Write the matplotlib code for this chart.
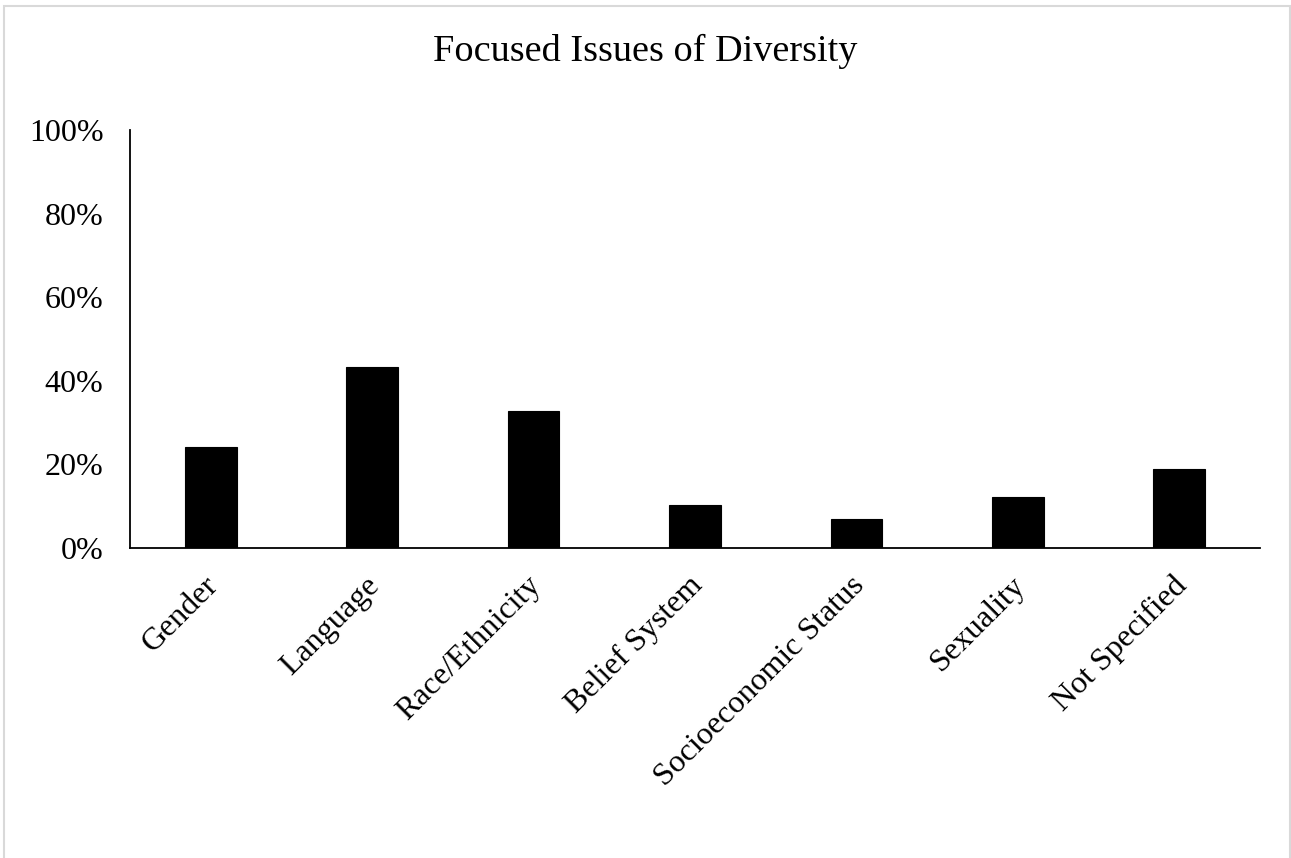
import numpy as np
import matplotlib
matplotlib.use("Agg")
import matplotlib.pyplot as plt
import matplotlib.transforms as mtransforms
from matplotlib.patches import Rectangle
from matplotlib.ticker import PercentFormatter

categories = ["Gender", "Language", "Race/Ethnicity", "Belief System",
              "Socioeconomic Status", "Sexuality", "Not Specified"]
shares = [24.2, 43.2, 32.8, 10.4, 6.9, 12.1, 19.0]
yticks = [0, 20, 40, 60, 80, 100]

plt.rcParams["font.family"] = ["Liberation Serif", "DejaVu Serif"]

fig = plt.figure(figsize=(12.91, 8.58), dpi=100)
ax = fig.add_axes([130 / 1291, 1 - 548 / 858, 1130 / 1291, 418 / 858])

x = np.arange(len(categories))
ax.bar(x, shares, width=0.32, color="black", edgecolor="black", linewidth=0.8)

ax.set_xlim(-0.5, len(categories) - 0.5)
ax.set_ylim(0, 100)
ax.set_yticks(yticks)
ax.yaxis.set_major_formatter(PercentFormatter(decimals=0))
ax.tick_params(axis="y", length=0, pad=19, labelsize=23)
ax.tick_params(axis="x", length=0, pad=8)
ax.set_xticks(x)
ax.set_xticklabels(categories, rotation=45, ha="right", va="top",
                   rotation_mode="anchor", fontsize=23)

# nudge the slanted labels a bit down-left, like the original
shift = mtransforms.ScaledTranslation(-7 / 100, -12 / 100, fig.dpi_scale_trans)
for lab in ax.get_xticklabels():
    lab.set_transform(lab.get_transform() + shift)

for side in ["top", "right"]:
    ax.spines[side].set_visible(False)
for side in ["left", "bottom"]:
    ax.spines[side].set_linewidth(1.3)
    ax.spines[side].set_color("black")

fig.text(0.5, 1 - 51 / 858, "Focused Issues of Diversity", ha="center",
         va="center", fontsize=27.5)

# light chart-area frame
fig.patches.append(Rectangle((4 / 1291, -0.05), 1286 / 1291, 1 - 6 / 858 + 0.05,
                             transform=fig.transFigure, fill=False,
                             edgecolor="#d9d9d9", linewidth=1.5))

fig.savefig("out.png", dpi=100)
